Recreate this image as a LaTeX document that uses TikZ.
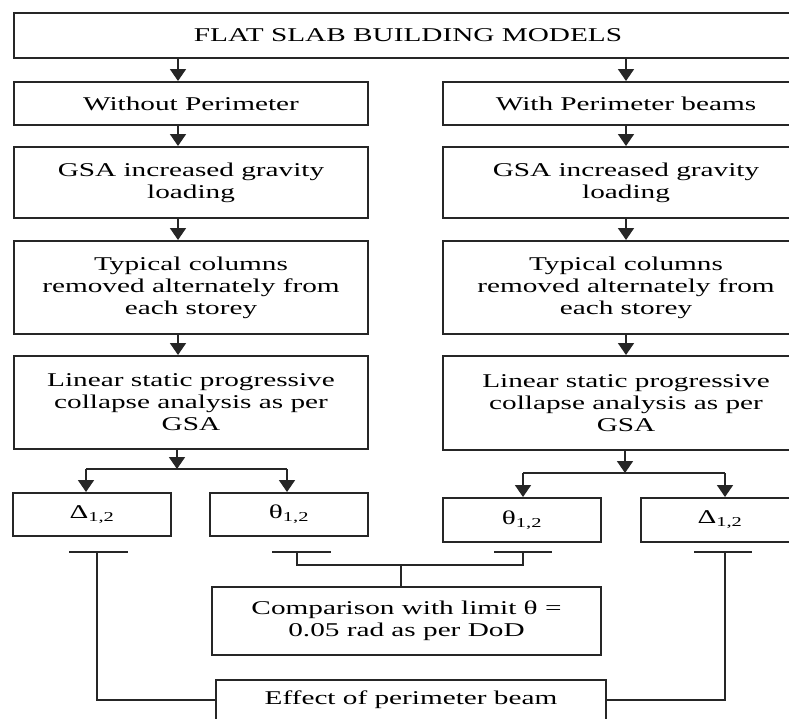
\documentclass[tikz,border=0pt]{standalone}
\usepackage{fontspec}
\setmainfont[FakeStretch=1.5]{Liberation Serif}
\usetikzlibrary{arrows.meta}
\begin{document}
\begin{tikzpicture}[x=1pt,y=-1pt,
  box/.style={draw=black!85, line width=2pt, align=center, inner sep=0pt,
    font=\fontsize{19.5}{22}\selectfont},
  conn/.style={draw=black!85, line width=1.7pt},
  arr/.style={conn, -{Triangle[width=16pt,length=12pt]}}]
\useasboundingbox (0,0) rectangle (789,718);
\clip (0,0) rectangle (789,718);
\fill[white] (0,0) rectangle (789,718);

% boxes
\node[box, minimum width=788pt, minimum height=45pt] (top) at (408,35.5) {FLAT SLAB BUILDING MODELS};
\node[box, minimum width=354pt, minimum height=43pt] (L1) at (191,103.5) {Without Perimeter};
\node[box, minimum width=366pt, minimum height=43pt] (R1) at (626,103.5) {With Perimeter beams};
\node[box, minimum width=354pt, minimum height=71pt] (L2) at (191,182.5) {GSA increased gravity\\loading};
\node[box, minimum width=366pt, minimum height=71pt] (R2) at (626,182.5) {GSA increased gravity\\loading};
\node[box, minimum width=354pt, minimum height=93pt] (L3) at (191,287.5) {Typical columns\\removed alternately from\\each storey};
\node[box, minimum width=366pt, minimum height=93pt] (R3) at (626,287.5) {Typical columns\\removed alternately from\\each storey};
\node[box, minimum width=354pt, minimum height=93pt] (L4) at (191,402.5) {Linear static progressive\\collapse analysis as per\\GSA};
\node[box, minimum width=366pt, minimum height=94pt] (R4) at (626,403) {Linear static progressive\\collapse analysis as per\\GSA};
\node[box, minimum width=158pt, minimum height=43pt] (LD) at (92,514.5) {Δ\textsubscript{1,2}};
\node[box, minimum width=158pt, minimum height=43pt] (LT) at (289,514.5) {θ\textsubscript{1,2}};
\node[box, minimum width=158pt, minimum height=44pt] (RT) at (522,520) {θ\textsubscript{1,2}};
\node[box, minimum width=158pt, minimum height=44pt] (RD) at (720,520) {Δ\textsubscript{1,2}};
\node[box, minimum width=389pt, minimum height=68pt] (CMP) at (406.5,621) {Comparison with limit θ =\\0.05 rad as per DoD};
\node[box, minimum width=390pt, minimum height=40pt] (EFF) at (411,700) {Effect of perimeter beam};

% vertical arrows
\coordinate (aL) at (178,0);
\draw[arr] (top.south -| aL) -- (L1.north -| aL);
\draw[arr] (top.south -| R1) -- (R1.north);
\draw[arr] (L1.south -| aL) -- (L2.north -| aL);
\draw[arr] (R1.south) -- (R2.north);
\draw[arr] (L2.south -| aL) -- (L3.north -| aL);
\draw[arr] (R2.south) -- (R3.north);
\draw[arr] (L3.south -| aL) -- (L4.north -| aL);
\draw[arr] (R3.south) -- (R4.north);

% splits
\coordinate (jL) at (177,469);
\coordinate (jL1) at (86,469);
\coordinate (jL2) at (287,469);
\draw[arr] (L4.south -| jL) -- (jL);
\draw[conn] (jL1) -- (jL2);
\draw[arr] (jL1) -- (LD.north -| jL1);
\draw[arr] (jL2) -- (LT.north -| jL2);

\coordinate (jR) at (625,473);
\coordinate (jR1) at (523,473);
\coordinate (jR2) at (725,473);
\draw[arr] (R4.south -| jR) -- (jR);
\draw[conn] (jR1) -- (jR2);
\draw[arr] (jR1) -- (RT.north -| jR1);
\draw[arr] (jR2) -- (RD.north -| jR2);

% T bars
\coordinate (b1a) at (69,552);  \coordinate (b1b) at (128,552); \coordinate (b1m) at (97,552);
\coordinate (b2a) at (272,552); \coordinate (b2b) at (331,552); \coordinate (b2m) at (297,552);
\coordinate (b3a) at (494,552); \coordinate (b3b) at (552,552); \coordinate (b3m) at (523,552);
\coordinate (b4a) at (694,552); \coordinate (b4b) at (752,552); \coordinate (b4m) at (725,552);
\coordinate (mid) at (401,565);
\draw[conn] (b1a) -- (b1b);
\draw[conn] (b2a) -- (b2b);
\draw[conn] (b3a) -- (b3b);
\draw[conn] (b4a) -- (b4b);
\draw[conn] (b2m) -- (b2m |- mid) -- (b3m |- mid) -- (b3m);
\draw[conn] (mid) -- (CMP.north -| mid);
\draw[conn] (b1m) -- (b1m |- EFF.west) -- (EFF.west);
\draw[conn] (b4m) -- (b4m |- EFF.east) -- (EFF.east);
\end{tikzpicture}
\end{document}
